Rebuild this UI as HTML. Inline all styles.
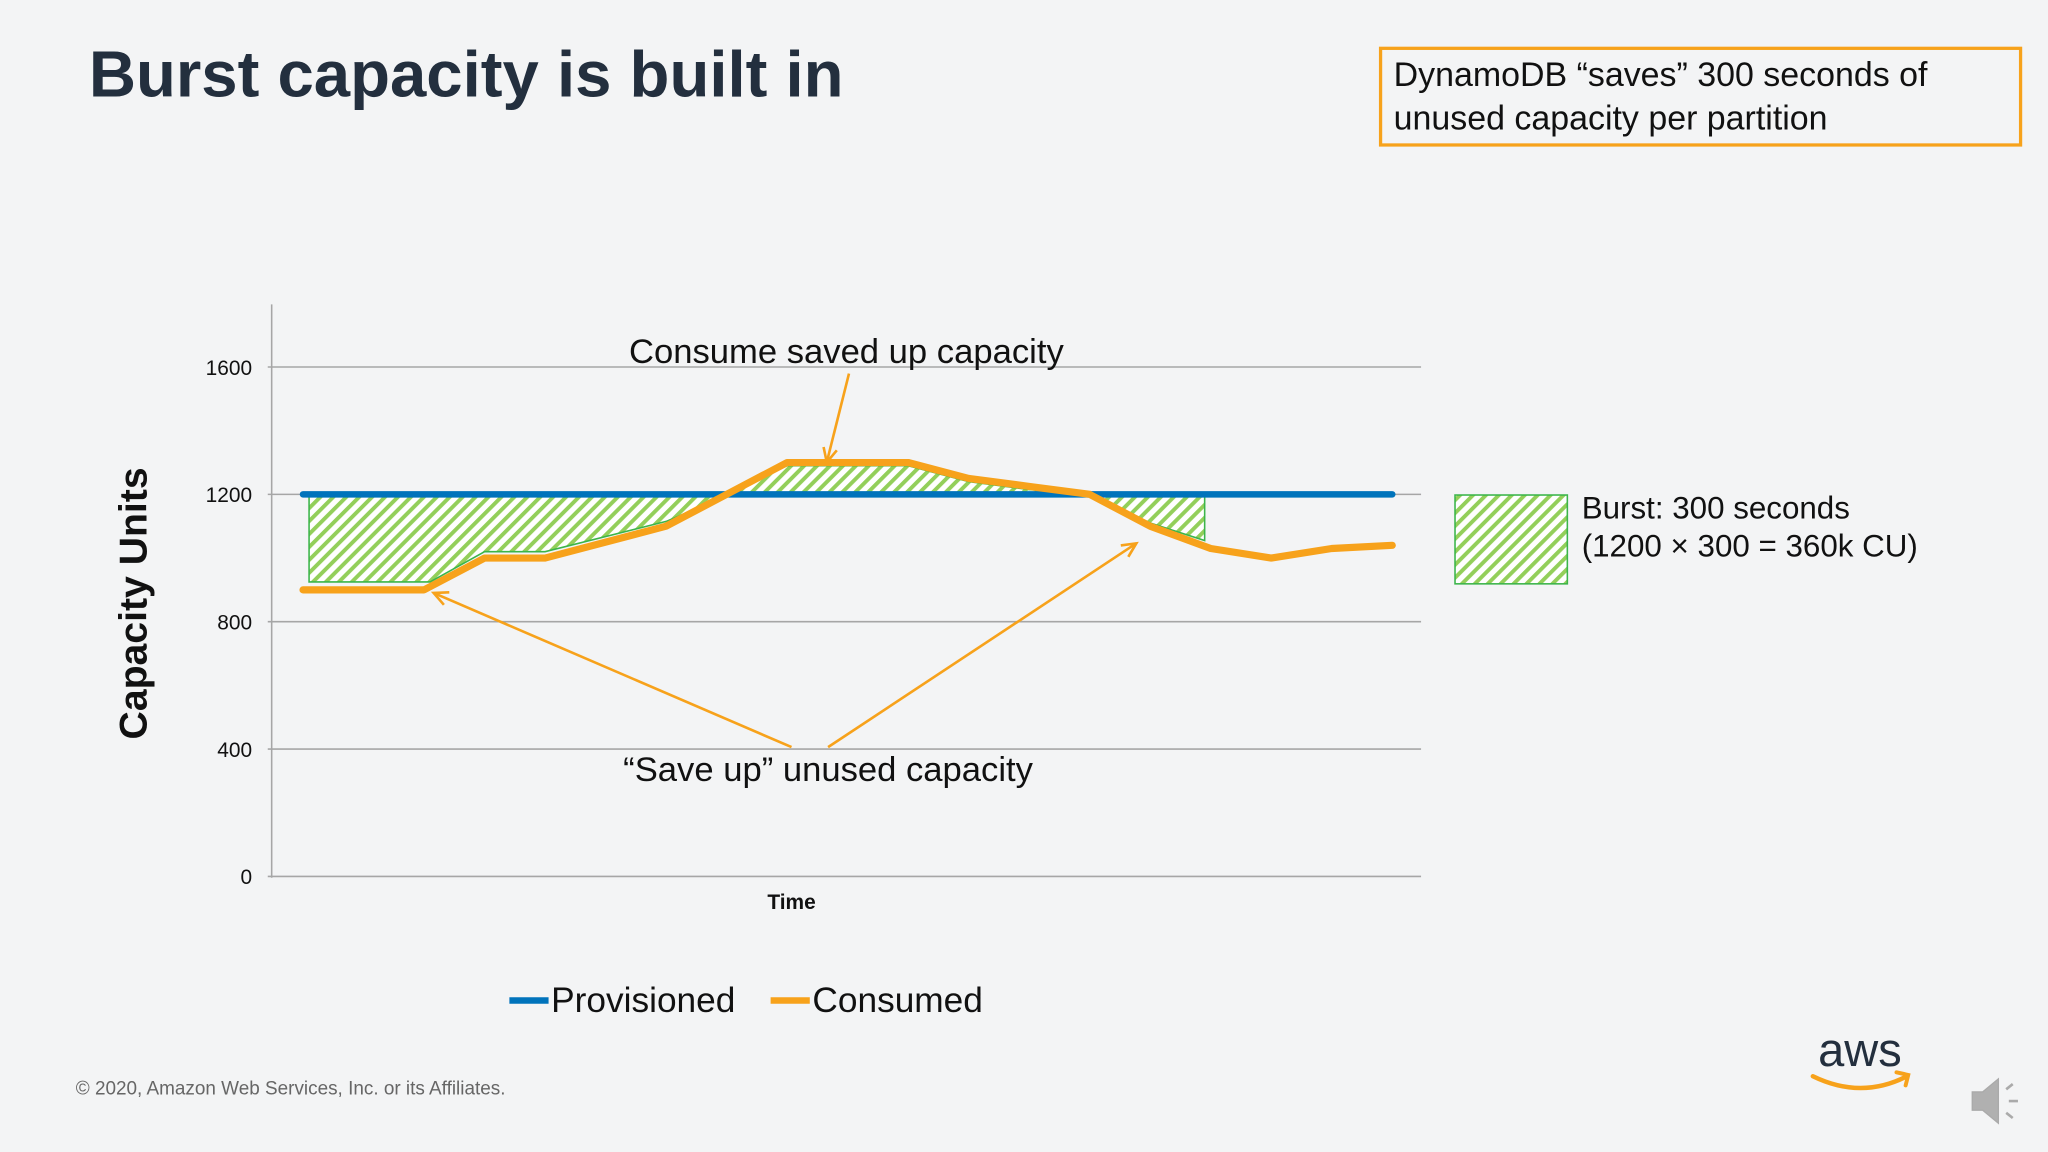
<!DOCTYPE html>
<html><head><meta charset="utf-8"><style>
html,body{margin:0;padding:0;background:#f3f4f5;}
svg{display:block;}
text{font-family:"Liberation Sans",sans-serif;}
</style></head><body>
<svg id="chart" width="2048" height="1152" viewBox="0 0 1568 882" xmlns="http://www.w3.org/2000/svg">
<defs>
<pattern id="hatch" patternUnits="userSpaceOnUse" width="7" height="7" patternTransform="rotate(45)">
<rect width="7" height="7" fill="#ffffff"/>
<rect x="0" y="0" width="3" height="7" fill="#93cf5a"/>
</pattern>
</defs>
<rect width="1568" height="882" fill="#f3f4f5"/>
<text x="68" y="74" font-size="50" font-weight="bold" fill="#232f3e">Burst capacity is built in</text>
<rect x="1057" y="37" width="490" height="74" fill="none" stroke="#f7a21b" stroke-width="2.5"/>
<text x="1067" y="66" font-size="26" fill="#111">DynamoDB “saves” 300 seconds of</text>
<text x="1067" y="99" font-size="26" fill="#111">unused capacity per partition</text>
<g id="plot"></g>
<text transform="translate(112,462) rotate(-90)" text-anchor="middle" font-size="30" font-weight="bold" fill="#111">Capacity Units</text>
<text x="606" y="696" text-anchor="middle" font-size="16" font-weight="bold" fill="#111">Time</text>
<text x="648" y="278" text-anchor="middle" font-size="26.5" fill="#111">Consume saved up capacity</text>
<text x="634" y="598" text-anchor="middle" font-size="26.5" fill="#111">“Save up” unused capacity</text>
<rect x="1114" y="379" width="86" height="68" fill="url(#hatch)" stroke="#3bb54a" stroke-width="1.2"/>
<text x="1211" y="397" font-size="24" fill="#111">Burst: 300 seconds</text>
<text x="1211" y="426" font-size="24" fill="#111">(1200 × 300 = 360k CU)</text>
<g><line x1="390" y1="766" x2="420" y2="766" stroke="#0073bb" stroke-width="5"/><text x="422" y="775" font-size="27" fill="#111">Provisioned</text></g>
<g><line x1="590" y1="766" x2="620" y2="766" stroke="#f7a21b" stroke-width="5"/><text x="622" y="775" font-size="27" fill="#111">Consumed</text></g>
<text x="58" y="838" font-size="14.5" fill="#666">© 2020, Amazon Web Services, Inc. or its Affiliates.</text>
<g>
<text x="1424" y="816" text-anchor="middle" font-size="36" fill="#232f3e">aws</text>
<path d="M1388 824 Q1425 842 1460 824" fill="none" stroke="#f7a21b" stroke-width="3.5" stroke-linecap="round"/>
<path d="M1452 821 L1461 823 L1459 831" fill="none" stroke="#f7a21b" stroke-width="3" stroke-linecap="round"/>
</g>
<g fill="#b0b0b0" stroke="#aaa">
<path d="M1510 836 L1518 836 L1530 826 L1530 860 L1518 850 L1510 850 Z"/>
<line x1="1536" y1="834" x2="1541" y2="830" stroke-width="2"/><line x1="1538" y1="843" x2="1545" y2="843" stroke-width="2"/><line x1="1536" y1="852" x2="1541" y2="856" stroke-width="2"/>
</g>
</svg>
<script>
const yTicks = [0, 400, 800, 1200, 1600];
const timeIdx = [0, 2, 3, 4, 6, 7, 8, 10, 11, 12, 13, 14, 15, 16, 17, 18];
const consumed = [900, 900, 1000, 1000, 1100, 1200, 1300, 1300, 1250, 1225, 1200, 1100, 1030, 1000, 1030, 1040];
const provisionedIdx = [0, 18];
const provisioned = [1200, 1200];
const burstSaveIdx = [0.1, 2.1, 3, 4, 6, 7, 7, 0.1];
const burstSaveVal = [925, 925, 1020, 1020, 1115, 1195, 1195, 1195];
const burstUseIdx = [7, 8, 10, 11, 12, 13, 7];
const burstUseVal = [1205, 1290, 1290, 1240, 1215, 1200, 1205];
const burstSave2Idx = [13.1, 14.9, 14.9, 14, 13.1];
const burstSave2Val = [1205, 1205, 1055, 1110, 1195];

const NS = 'http://www.w3.org/2000/svg';
const X0 = 232, XSTEP = 46.33, Y0 = 671, YPX = 97.5/400;
function xs(i){ return X0 + i*XSTEP; }
function ys(v){ return Y0 - v*YPX; }
const plot = document.getElementById('plot');
function mk(tag, attrs){ const e=document.createElementNS(NS,tag); for(const k in attrs) e.setAttribute(k,attrs[k]); plot.appendChild(e); return e; }

yTicks.forEach(t=>{
  const g = mk('line',{x1:205,x2:1088,y1:ys(t),y2:ys(t),stroke:'#a6a6a6','stroke-width':1.2});
  
  
  const l = mk('text',{x:193,y:ys(t)+6,'text-anchor':'end','font-size':16,fill:'#111'});
  l.textContent = t;
  
  
});
const ax = mk('line',{x1:208,x2:208,y1:233,y2:672,stroke:'#a6a6a6','stroke-width':1.2});



function poly(idx, vals, name){
  const p = mk('polygon',{points:idx.map((i,k)=>xs(i)+','+ys(vals[k])).join(' '),fill:'url(#hatch)',stroke:'#3bb54a','stroke-width':1.2});
  
  
}
poly(burstSaveIdx, burstSaveVal, 'burst-area-save-1');
poly(burstUseIdx, burstUseVal, 'burst-area-consume');
poly(burstSave2Idx, burstSave2Val, 'burst-area-save-2');

const pl = mk('polyline',{points:provisionedIdx.map((i,k)=>xs(i)+','+ys(provisioned[k])).join(' '),fill:'none',stroke:'#0073bb','stroke-width':5,'stroke-linecap':'round'});


const cl = mk('polyline',{points:timeIdx.map((i,k)=>xs(i)+','+ys(consumed[k])).join(' '),fill:'none',stroke:'#f7a21b','stroke-width':5.5,'stroke-linejoin':'round','stroke-linecap':'round'});



function arrow(x1,y1,x2,y2,name){
  const a = mk('line',{x1:x1,y1:y1,x2:x2,y2:y2,stroke:'#f7a21b','stroke-width':2});
  
  
  const ang = Math.atan2(y2-y1,x2-x1), L=12, w=0.45;
  const h = mk('polyline',{points:(x2-L*Math.cos(ang-w))+','+(y2-L*Math.sin(ang-w))+' '+x2+','+y2+' '+(x2-L*Math.cos(ang+w))+','+(y2-L*Math.sin(ang+w)),fill:'none',stroke:'#f7a21b','stroke-width':2});
  
  
}
arrow(650,286,633,354,'arrow-consume');
arrow(606,572,332,454,'arrow-save-left');
arrow(634,572,870,416,'arrow-save-right');
</script>
</body></html>
